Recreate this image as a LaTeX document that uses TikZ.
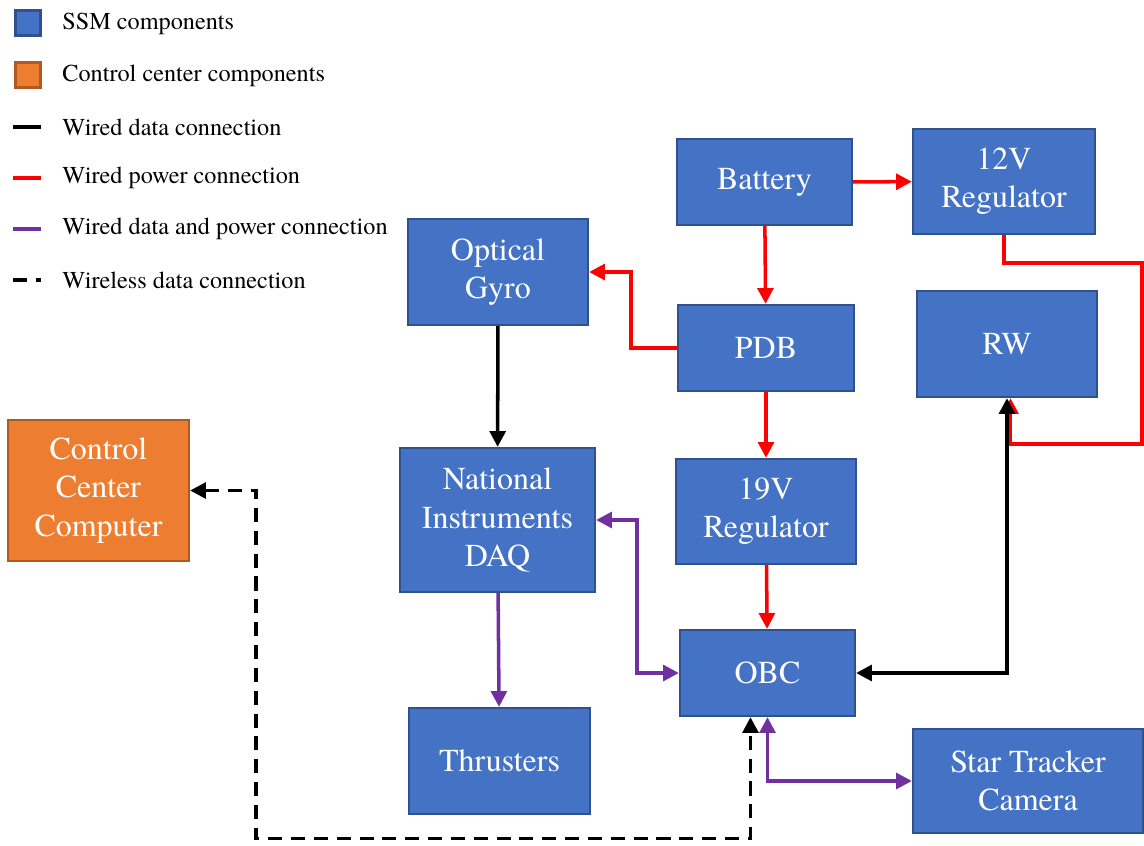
\documentclass[tikz,border=0pt]{standalone}
\usepackage{fontspec}
\setmainfont{TeX Gyre Termes}
\usetikzlibrary{arrows.meta,shapes}
\definecolor{ssmblue}{HTML}{4472C4}
\definecolor{ssmedge}{HTML}{2F528F}
\definecolor{ccorange}{HTML}{ED7D31}
\definecolor{ccedge}{HTML}{AE5A21}
\definecolor{dpurple}{HTML}{7030A0}
\tikzstyle{ssm}=[rectangle,draw=ssmedge,fill=ssmblue,line width=1.3pt,text=white,align=center,inner sep=0pt,font=\fontsize{18.2}{21.8}\selectfont]
\tikzstyle{ctrl}=[ssm,draw=ccedge,fill=ccorange]
\tikzstyle{legend}=[anchor=west,inner sep=0pt,font=\fontsize{13.8}{16}\selectfont]
\tikzstyle{data}=[draw,black,line width=2pt,-{Triangle[length=9pt,width=9pt]}]
\tikzstyle{power}=[data,red]
\tikzstyle{both}=[data,dpurple]
\tikzstyle{wireless}=[data,dash pattern=on 8pt off 5pt]
\tikzstyle{twoway}=[{Triangle[length=9pt,width=9pt]}-{Triangle[length=9pt,width=9pt]}]

\begin{document}
\begin{tikzpicture}[x=0.02cm,y=-0.02cm]
        \useasboundingbox (0,0) rectangle (1144,846);
        % legend
        \node[ssm,minimum width=0.5cm,minimum height=0.5cm] (lssm) at (28,23) {};
        \node[ctrl,minimum width=0.5cm,minimum height=0.5cm] (lctrl) at (28,75) {};
        \draw[data,-] (13,127) -- (41,127);
        \draw[power,-] (13,178) -- (41,178);
        \draw[both,-] (13,229) -- (41,229);
        \draw[wireless,-] (13,280) -- (41,280);
        \node[legend] (t1) at (62,24) {SSM components};
        \node[legend] (t2) at (62,76) {Control center components};
        \node[legend] (t3) at (62,127) {Wired data connection};
        \node[legend] (t4) at (62,178) {Wired power connection};
        \node[legend] (t5) at (62,229) {Wired data and power connection};
        \node[legend] (t6) at (62,280) {Wireless data connection};
        % components
        \node[ssm,minimum width=3.5cm,minimum height=1.72cm] (bat) at (764.5,182) {Battery};
        \node[ssm,minimum width=3.64cm,minimum height=2.1cm] (reg12) at (1004,181.5) {12V\\Regulator};
        \node[ssm,minimum width=3.6cm,minimum height=2.12cm] (gyro) at (498,272) {Optical\\Gyro};
        \node[ssm,minimum width=3.52cm,minimum height=1.72cm] (pdb) at (766,348) {PDB};
        \node[ssm,minimum width=3.6cm,minimum height=2.12cm] (rw) at (1007,344) {RW};
        \node[ctrl,minimum width=3.62cm,minimum height=2.82cm] (ccc) at (98.5,490.5) {Control\\Center\\Computer};
        \node[ssm,minimum width=3.9cm,minimum height=2.88cm] (daq) at (497.5,520) {National\\Instruments\\DAQ};
        \node[ssm,minimum width=3.6cm,minimum height=2.1cm] (reg19) at (766,511.5) {19V\\Regulator};
        \node[ssm,minimum width=3.5cm,minimum height=1.72cm] (obc) at (767.5,673) {OBC};
        \node[ssm,minimum width=3.62cm,minimum height=2.12cm] (thr) at (499.5,761) {Thrusters};
        \node[ssm,minimum width=4.6cm,minimum height=2.08cm] (star) at (1028,781) {Star Tracker\\Camera};
        \coordinate (wl) at ([xshift=-0.34cm]obc.south);
        % power lines
        \draw[power] (bat) to (reg12);
        \draw[power] (bat) to (pdb);
        \draw[power] (pdb.west) -- ++(-46,0) |- (gyro.east);
        \draw[power] (pdb) to (reg19);
        \draw[power] (reg19) to (obc);
        \draw[power] (reg12.south) -- ++(0,28) -- ++(138,0) -- ++(0,181) -| ([xshift=0.07cm]rw.south);
        % data lines
        \draw[data,twoway] (obc.east) -| (rw.south);
        \draw[data] (gyro) to (daq);
        \draw[both,twoway] (daq.east) -- ++(41,0) |- (obc.west);
        \draw[both] (daq) to (thr);
        \draw[both,twoway] (obc.south) |- (star.west);
        \draw[wireless,twoway] (ccc.east) -- ++(66,0) -- ++(0,348) -| (wl);
      \end{tikzpicture}
\end{document}
